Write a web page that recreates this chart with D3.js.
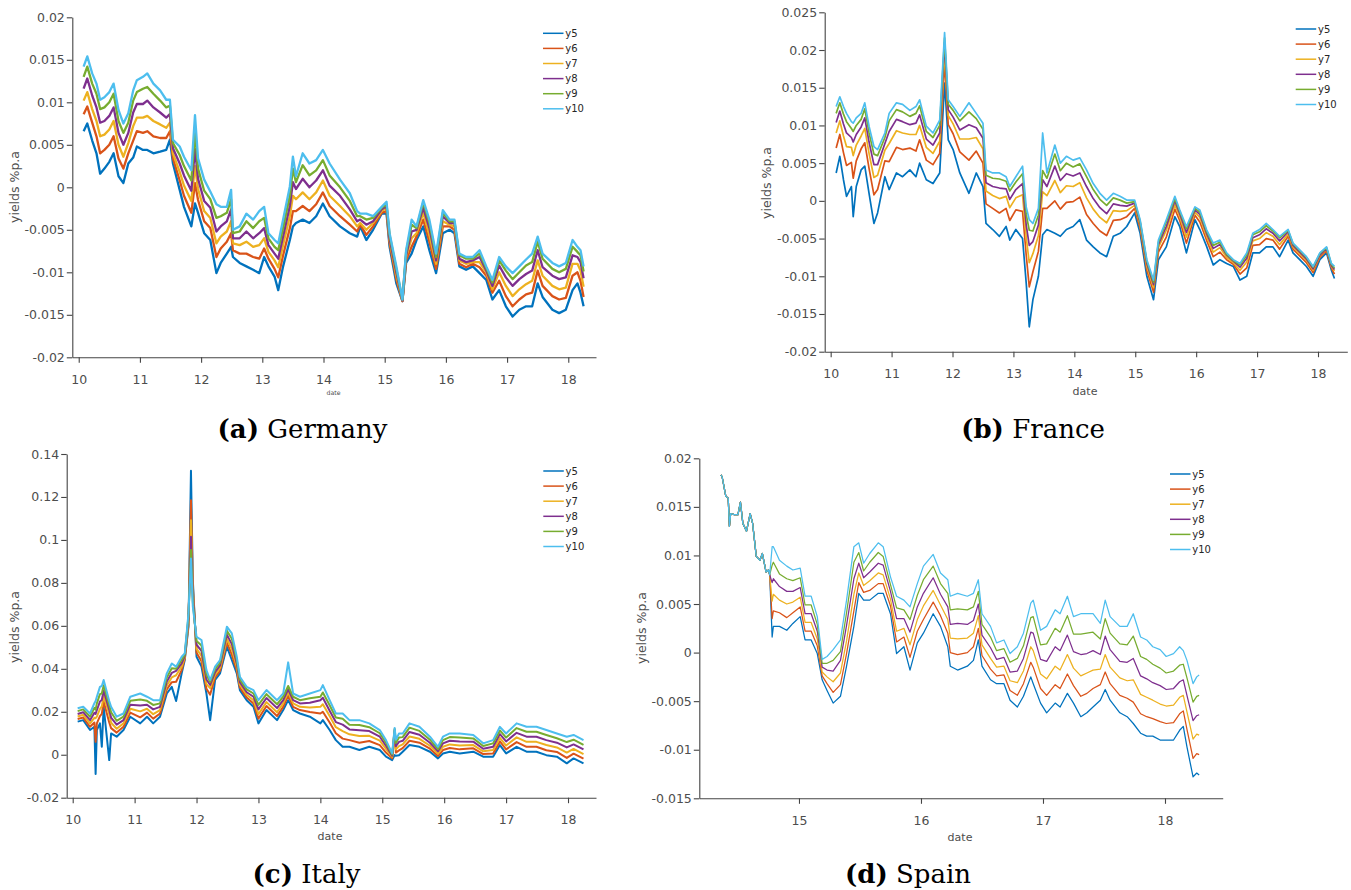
<!DOCTYPE html>
<html>
<head>
<meta charset="utf-8">
<script src="https://cdn.jsdelivr.net/npm/d3@7"></script>
<style>
  body { margin: 0; background: #fff; }
  svg { display: block; }
</style>
</head>
<body>
<svg id="fig" width="1351" height="890"></svg>
<script>
// ============= DATA (yields in basis points, 1e-4) ==================

const seriesNames = ["y5", "y6", "y7", "y8", "y9", "y10"];
const seriesColors = ["#0072BD", "#D95319", "#EDB120", "#7E2F8E", "#77AC30", "#4DBEEE"];

const xTicksLong = [10, 11, 12, 13, 14, 15, 16, 17, 18];
const xTicksSpain = [15, 16, 17, 18];
const yTicksDE = [-0.02, -0.015, -0.01, -0.005, 0, 0.005, 0.01, 0.015, 0.02];
const yTicksFR = [-0.02, -0.015, -0.01, -0.005, 0, 0.005, 0.01, 0.015, 0.02, 0.025];
const yTicksIT = [-0.02, 0, 0.02, 0.04, 0.06, 0.08, 0.1, 0.12, 0.14];
const yTicksES = [-0.015, -0.01, -0.005, 0, 0.005, 0.01, 0.015, 0.02];

// Germany
const deDates = [10.08,10.14,10.22,10.29,10.35,10.42,10.50,10.57,10.65,10.73,10.81,10.89,10.95,11.05,11.12,11.22,11.33,11.43,11.49,11.54,
  11.65,11.72,11.84,11.90,11.95,12.05,12.15,12.25,12.32,12.42,12.49,12.52,12.63,12.74,12.85,12.95,13.03,13.10,13.20,13.26,
  13.34,13.45,13.50,13.55,13.66,13.77,13.88,13.99,14.10,14.27,14.43,14.55,14.60,14.70,14.81,14.95,15.03,15.08,15.19,15.29,
  15.35,15.44,15.52,15.63,15.73,15.84,15.95,16.06,16.14,16.22,16.33,16.44,16.55,16.66,16.76,16.87,16.98,17.09,17.20,17.31,
  17.41,17.50,17.58,17.74,17.85,17.96,18.07,18.15,18.20,18.25];
const deY5 = [66,75,55,40,16,22,30,40,13,5,28,35,48,44,44,40,42,44,56,28,
  -3,-23,-46,-19,-30,-54,-62,-101,-89,-78,-70,-82,-89,-93,-97,-101,-82,-93,-105,-121,
  -93,-62,-46,-42,-38,-42,-34,-19,-34,-46,-54,-58,-46,-62,-50,-31,-31,-70,-113,-134,
  -89,-78,-62,-46,-74,-101,-54,-50,-54,-93,-97,-93,-101,-109,-132,-121,-140,-152,-144,-140,
  -140,-113,-129,-144,-148,-144,-121,-113,-124,-140];
const deY6 = [86,95,76,60,40,44,50,60,34,22,40,55,66,64,66,60,58,58,66,34,
  8,-10,-30,5,-15,-40,-48,-82,-72,-64,-54,-74,-78,-78,-82,-84,-72,-84,-96,-106,
  -80,-48,-28,-28,-22,-28,-20,-6,-22,-34,-44,-52,-44,-56,-46,-30,-28,-66,-108,-134,
  -86,-70,-58,-38,-64,-96,-46,-46,-50,-90,-94,-90,-94,-104,-124,-110,-128,-140,-132,-126,
  -124,-98,-116,-128,-132,-130,-104,-100,-110,-129];
const deY7 = [102,112,92,78,60,62,68,78,50,36,52,72,82,82,84,78,74,70,76,40,
  18,2,-16,25,-2,-28,-36,-66,-58,-52,-40,-66,-68,-64,-70,-68,-60,-76,-86,-94,
  -68,-34,-10,-14,-6,-14,-6,8,-10,-22,-34,-46,-42,-50,-42,-28,-24,-62,-104,-133,
  -82,-60,-54,-30,-56,-90,-40,-44,-46,-86,-90,-88,-88,-100,-120,-100,-116,-128,-120,-114,
  -110,-86,-104,-116,-120,-118,-90,-90,-98,-117];
const deY8 = [116,128,108,94,76,78,84,94,64,50,64,88,98,98,102,94,88,82,86,46,
  28,14,-4,45,10,-16,-24,-52,-46,-40,-26,-60,-60,-52,-60,-54,-48,-68,-78,-84,
  -58,-22,6,-2,10,0,8,20,2,-10,-26,-40,-38,-44,-40,-26,-22,-60,-100,-133,
  -80,-52,-50,-24,-48,-86,-34,-42,-42,-84,-88,-86,-82,-98,-116,-92,-106,-116,-108,-102,
  -98,-74,-94,-104,-108,-106,-80,-82,-88,-107];
const deY9 = [130,142,122,110,92,94,100,110,78,64,76,102,112,116,118,110,102,94,96,52,
  38,25,8,65,22,-4,-14,-36,-34,-30,-14,-54,-52,-40,-48,-40,-36,-60,-70,-74,
  -48,-10,22,6,26,14,20,32,14,0,-16,-34,-34,-38,-36,-24,-20,-56,-96,-132,
  -76,-44,-48,-18,-42,-82,-30,-40,-40,-80,-84,-84,-78,-95,-112,-86,-98,-108,-100,-92,
  -88,-64,-84,-96,-100,-96,-70,-76,-80,-99];
const deY10 = [142,154,134,122,103,106,112,122,91,75,87,114,126,130,134,122,114,103,103,56,
  48,36,20,85,34,9,-5,-20,-23,-23,-3,-50,-46,-31,-38,-28,-23,-54,-62,-66,
  -38,1,36,13,40,28,32,44,28,9,-7,-28,-31,-31,-34,-23,-17,-54,-93,-132,
  -74,-38,-46,-15,-38,-78,-27,-38,-38,-78,-82,-82,-74,-93,-109,-82,-93,-101,-93,-85,
  -78,-58,-78,-89,-93,-89,-62,-70,-74,-93];

// France
const frDates = [10.09,10.15,10.21,10.26,10.34,10.37,10.42,10.50,10.56,10.63,10.71,10.77,10.89,10.96,11.08,11.18,11.30,11.40,11.46,11.57,
  11.68,11.79,11.87,11.93,12.01,12.12,12.27,12.39,12.50,12.55,12.66,12.77,12.88,12.94,13.04,13.15,13.21,13.26,13.32,13.41,
  13.48,13.55,13.68,13.77,13.87,13.98,14.09,14.20,14.31,14.42,14.53,14.64,14.75,14.86,14.99,15.08,15.19,15.30,15.38,15.51,
  15.65,15.73,15.84,15.98,16.06,16.17,16.28,16.39,16.50,16.61,16.72,16.83,16.93,17.04,17.15,17.26,17.37,17.51,17.59,17.70,
  17.81,17.92,18.03,18.14,18.22,18.27];
const frY5 = [37,59,28,6,19,-21,19,41,46,10,-30,-16,32,15,37,32,41,32,50,28,
  23,37,156,81,68,37,10,37,19,-30,-38,-47,-34,-52,-38,-50,-109,-167,-131,-100,
  -45,-38,-43,-47,-38,-34,-25,-52,-61,-69,-74,-47,-43,-34,-16,-43,-100,-131,-78,-61,
  -21,-34,-69,-25,-38,-60,-85,-78,-83,-87,-105,-100,-69,-69,-61,-61,-74,-52,-69,-78,
  -87,-100,-78,-69,-92,-103];
const frY6 = [70,88,64,47,51,30,53,69,77,43,8,15,53,52,71,68,70,66,81,54,
  48,63,185,101,89,65,54,66,50,-4,-10,-16,-10,-26,-12,-14,-72,-114,-94,-67,
  -10,-10,0,-11,-2,-1,5,-18,-30,-40,-46,-26,-25,-21,-10,-36,-92,-121,-68,-48,
  -11,-26,-56,-19,-28,-52,-74,-68,-78,-84,-97,-89,-59,-58,-50,-52,-64,-47,-64,-73,
  -82,-95,-75,-66,-89,-97];
const frY7 = [90,106,86,72,71,60,74,86,96,63,31,34,67,76,93,90,88,88,100,71,
  63,79,200,113,102,82,82,84,69,13,7,3,6,-9,4,8,-48,-82,-70,-46,
  12,7,27,11,20,19,24,4,-11,-22,-29,-13,-14,-13,-6,-32,-87,-115,-62,-39,
  -5,-21,-48,-15,-22,-47,-68,-62,-75,-82,-92,-81,-53,-50,-42,-47,-58,-44,-61,-70,
  -79,-92,-73,-64,-87,-93];
const frY8 = [104,119,102,90,84,78,88,98,110,78,48,48,76,92,108,105,101,103,114,82,
  74,90,210,121,111,94,101,97,83,24,19,17,16,2,15,23,-32,-59,-54,-32,
  28,19,46,27,36,33,37,19,3,-9,-17,-4,-6,-7,-3,-29,-83,-111,-58,-34,
  0,-17,-42,-12,-18,-43,-63,-58,-72,-80,-88,-76,-49,-45,-37,-43,-53,-41,-59,-68,
  -77,-90,-72,-63,-86,-91];
const frY9 = [116,130,115,105,96,92,100,108,122,90,62,60,84,106,121,118,112,116,126,92,
  84,100,216,128,120,106,118,109,95,34,30,29,26,13,25,36,-18,-39,-40,-19,
  40,30,62,40,50,45,49,32,15,2,-6,4,1,-3,-1,-27,-80,-108,-55,-28,
  3,-14,-37,-10,-15,-40,-59,-55,-71,-79,-85,-72,-45,-41,-33,-40,-49,-39,-57,-66,
  -75,-88,-70,-62,-84,-89];
const frY10 = [125,138,125,116,105,103,110,116,130,99,72,68,90,116,130,128,120,125,134,99,
  90,107,223,134,125,112,130,116,103,41,37,37,32,19,32,46,-8,-25,-30,-10,
  90,37,74,50,59,54,57,41,23,10,1,10,6,1,1,-25,-78,-105,-52,-25,
  6,-12,-34,-8,-12,-38,-56,-52,-69,-78,-83,-69,-43,-38,-30,-38,-47,-38,-56,-65,
  -74,-87,-69,-61,-83,-87];

// Italy
const itDates = [10.08,10.17,10.28,10.35,10.37,10.39,10.44,10.47,10.50,10.59,10.62,10.71,10.82,10.93,11.09,11.20,11.30,11.41,11.52,11.60,
  11.67,11.76,11.81,11.87,11.91,11.94,12.00,12.08,12.16,12.22,12.30,12.38,12.49,12.57,12.65,12.70,12.81,12.92,13.00,13.13,
  13.30,13.40,13.48,13.56,13.67,13.83,14.00,14.04,14.15,14.25,14.36,14.47,14.63,14.79,14.96,15.06,15.16,15.20,15.22,15.27,
  15.33,15.44,15.60,15.77,15.90,15.98,16.09,16.25,16.47,16.63,16.79,16.90,17.00,17.17,17.33,17.49,17.65,17.82,17.98,18.09,
  18.25];
const itY5 = [154,161,115,130,-90,115,146,37,223,-25,99,84,115,177,146,177,146,177,285,316,
  250,379,441,596,1322,813,456,410,285,161,348,379,503,441,379,301,254,223,146,208,
  161,208,254,208,192,177,146,161,115,68,37,37,22,37,22,-9,-25,-2,-5,-2,
  14,45,37,14,-17,6,14,6,14,-9,-9,45,6,37,14,14,-2,-9,-40,-17,
  -40];
const itY6 = [166,173,130,150,60,146,180,190,248,150,124,103,130,196,174,196,168,192,304,338,
  340,394,447,608,1185,790,475,435,307,280,360,391,522,466,394,313,266,239,168,227,
  180,223,275,223,208,199,192,200,150,100,75,68,56,64,45,10,-17,100,10,20,
  31,65,56,28,-6,22,31,25,30,3,6,62,25,59,37,37,21,13,-15,5,
  -18];
const itY7 = [178,186,146,172,170,177,214,225,273,190,149,121,146,214,202,214,189,208,323,360,
  370,410,453,620,1092,760,493,460,329,310,373,404,540,491,410,326,279,254,189,245,
  198,239,290,239,223,220,223,235,180,128,110,95,87,88,66,27,-10,110,25,40,
  48,85,74,42,5,37,48,43,45,16,22,79,43,81,60,60,45,34,10,27,
  3];
const itY8 = [190,198,161,195,190,208,248,255,298,210,173,140,161,233,229,233,211,223,341,381,
  390,425,460,633,1015,740,512,484,350,325,385,416,559,515,425,338,291,270,211,264,
  217,254,305,254,239,242,254,265,205,152,140,118,114,110,84,42,-4,115,40,60,
  65,106,93,56,16,53,65,62,61,28,37,96,62,102,84,84,68,56,34,48,
  25];
const itY9 = [203,211,177,218,210,239,282,285,323,230,198,158,177,251,257,251,232,239,360,403,
  400,441,466,645,953,710,530,509,372,338,398,429,577,540,441,351,304,285,232,282,
  235,270,320,270,254,263,270,290,230,173,168,140,138,128,100,56,1,120,55,80,
  82,126,111,70,26,68,82,80,76,41,53,113,80,124,107,107,92,77,59,70,
  46];
const itY10 = [216,223,192,240,250,270,316,320,348,250,223,177,192,270,285,270,254,254,379,425,
  410,456,472,658,914,689,549,534,394,348,410,441,596,565,456,363,316,301,254,301,
  254,285,430,285,270,285,301,324,254,192,192,161,161,146,115,68,6,125,70,99,
  99,146,130,84,37,84,99,99,92,53,68,130,99,146,130,130,115,99,84,92,
  68];

// Spain: all maturities coincide until mid-2014
const esHeadDates = [14.36,14.37,14.40,14.42,14.43,14.44,14.47,14.50,14.52,14.54,14.57,14.60,14.62,14.65,14.68,14.70,14.73,14.75,14.76];
const esHead = [183,181,161,159,130,143,142,142,155,133,125,143,133,99,95,102,83,85,80];
const esDates = [14.78,14.79,14.84,14.90,14.95,15.01,15.05,15.10,15.15,15.19,15.23,15.28,15.34,15.39,15.45,15.49,15.53,15.58,15.65,15.69,
  15.75,15.80,15.86,15.91,15.97,16.02,16.10,16.16,16.22,16.24,16.30,16.38,16.43,16.47,16.50,16.57,16.62,16.68,16.73,16.79,
  16.84,16.90,16.92,16.98,17.03,17.10,17.14,17.20,17.25,17.31,17.36,17.41,17.47,17.51,17.55,17.63,17.69,17.74,17.80,17.85,
  17.90,17.96,18.01,18.07,18.12,18.15,18.18,18.23,18.26,18.28];
const esY5 = [16,27,27,23,30,37,13,13,-1,-28,-39,-52,-45,-14,27,61,54,54,61,61,
  40,-1,6,-18,10,20,40,27,6,-14,-18,-14,-8,13,-14,-28,-32,-32,-49,-56,
  -45,-25,-32,-52,-62,-52,-56,-42,-52,-66,-62,-56,-49,-38,-49,-62,-66,-73,-83,-86,
  -86,-90,-90,-90,-80,-76,-97,-128,-124,-126];
const esY6 = [35,43,41,36,41,47,22,22,7,-24,-32,-41,-33,-1,43,72,62,64,71,71,
  48,11,16,-5,22,34,52,38,20,0,-2,0,6,25,-3,-17,-24,-23,-39,-44,
  -32,-10,-15,-37,-44,-33,-37,-22,-34,-45,-42,-37,-33,-20,-32,-44,-47,-51,-63,-66,
  -68,-71,-73,-72,-63,-60,-79,-109,-104,-105];
const esY7 = [53,60,54,50,52,57,31,31,14,-20,-25,-30,-21,12,60,82,69,74,82,80,
  55,22,25,8,34,48,64,49,34,15,14,15,20,38,8,-6,-15,-14,-29,-31,
  -19,6,2,-22,-27,-14,-18,-2,-16,-24,-21,-18,-17,-2,-15,-26,-29,-28,-43,-46,
  -49,-53,-55,-54,-46,-44,-61,-89,-84,-85];
const esY8 = [72,76,68,63,63,67,40,40,22,-15,-18,-19,-8,28,76,92,77,83,92,90,
  63,35,35,21,47,61,77,60,47,29,30,29,33,50,18,5,-7,-5,-20,-19,
  -6,21,20,-7,-9,6,2,18,1,-2,-1,2,-2,17,3,-9,-10,-6,-24,-27,
  -31,-34,-38,-37,-30,-28,-44,-70,-65,-64];
const esY9 = [90,93,81,76,74,77,49,49,29,-11,-11,-8,1,41,93,103,84,93,103,99,
  70,46,44,34,59,75,89,71,61,44,45,44,47,63,29,16,2,4,-10,-6,
  7,36,37,8,9,25,21,38,19,19,20,21,14,35,20,9,8,17,-4,-7,
  -12,-16,-21,-19,-13,-12,-26,-51,-45,-44];
const esY10 = [109,109,95,89,85,87,58,58,37,-7,-4,3,13,54,109,113,92,102,113,109,
  78,58,54,47,71,89,101,82,75,58,61,58,61,75,40,27,10,13,-1,6,
  20,51,54,23,27,44,40,58,37,40,40,40,30,54,37,27,27,40,16,13,
  6,3,-4,-1,6,2,-8,-32,-25,-23];

// ============= PANELS ==================

const panels = [
  {
    letter: "a", name: "Germany",
    dates: deDates, series: [deY5, deY6, deY7, deY8, deY9, deY10],
    box: { left: 72.3, right: 596, top: 17.3, bottom: 357.3 },
    xDomain: [9.895, 18.453], yDomain: [-0.02, 0.02],
    xTicks: xTicksLong, yTicks: yTicksDE, lineW: 2.3,
    legend: { x: 543, y: 33.3 }, ylab: { x: 15, y: 187 },
    xlab: { x: 333.5, y: 394.5, size: 6.2 }, caption: { x: 302.5, y: 438 }
  },
  {
    letter: "b", name: "France",
    dates: frDates, series: [frY5, frY6, frY7, frY8, frY9, frY10],
    box: { left: 824.7, right: 1347.3, top: 12.3, bottom: 351.7 },
    xDomain: [9.902, 18.481], yDomain: [-0.02, 0.025],
    xTicks: xTicksLong, yTicks: yTicksFR, lineW: 1.7,
    legend: { x: 1295.7, y: 29 }, ylab: { x: 766.7, y: 183 },
    xlab: { x: 1085, y: 395, size: 11 }, caption: { x: 1033, y: 438 }
  },
  {
    letter: "c", name: "Italy",
    dates: itDates, series: [itY5, itY6, itY7, itY8, itY9, itY10],
    box: { left: 66.7, right: 596, top: 454, bottom: 797.7 },
    xDomain: [9.903, 18.452], yDomain: [-0.02, 0.14],
    xTicks: xTicksLong, yTicks: yTicksIT, lineW: 2.0,
    legend: { x: 543.3, y: 471 }, ylab: { x: 15, y: 627 },
    xlab: { x: 330, y: 840, size: 11 }, caption: { x: 306.5, y: 883 }
  },
  {
    letter: "d", name: "Spain",
    dates: esHeadDates.concat(esDates),
    series: [esY5, esY6, esY7, esY8, esY9, esY10].map(s => esHead.concat(s)),
    box: { left: 699.3, right: 1222.7, top: 458.3, bottom: 798.3 },
    xDomain: [14.183, 18.473], yDomain: [-0.015, 0.02],
    xTicks: xTicksSpain, yTicks: yTicksES, lineW: 1.25,
    legend: { x: 1170, y: 474 }, ylab: { x: 641.7, y: 628 },
    xlab: { x: 960, y: 841, size: 11 }, caption: { x: 908, y: 883 }
  }
];

const svg = d3.select("#fig");
const tickFmt = d => String(+d.toFixed(4));
const axisColor = "#444";
const labelColor = "#4d4d4d";

function drawPanel(p) {
  const g = svg.append("g");
  const x = d3.scaleLinear().domain(p.xDomain).range([p.box.left, p.box.right]);
  const y = d3.scaleLinear().domain(p.yDomain).range([p.box.bottom, p.box.top]);

  // data lines, y5 first so y10 sits on top
  const line = d3.line().x(d => x(d[0])).y(d => y(d[1] / 1e4));
  p.series.forEach((vals, i) => {
    g.append("path")
      .datum(p.dates.map((dt, j) => [dt, vals[j]]))
      .attr("d", line)
      .attr("fill", "none")
      .attr("stroke", seriesColors[i])
      .attr("stroke-width", p.lineW)
      .attr("stroke-linejoin", "round");
  });

  // axes (MATLAB style: left + bottom only, ticks outside)
  const xAxis = g.append("g")
    .attr("transform", `translate(0,${p.box.bottom})`)
    .call(d3.axisBottom(x).tickValues(p.xTicks).tickSize(5.5).tickSizeOuter(0)
      .tickPadding(12).tickFormat(d3.format("d")));
  const yAxis = g.append("g")
    .attr("transform", `translate(${p.box.left},0)`)
    .call(d3.axisLeft(y).tickValues(p.yTicks).tickSize(5.5).tickSizeOuter(0)
      .tickPadding(2).tickFormat(tickFmt));
  [xAxis, yAxis].forEach(ax => {
    ax.select(".domain").attr("stroke", axisColor).attr("stroke-width", 1.1);
    ax.selectAll(".tick line").attr("stroke", axisColor).attr("stroke-width", 1.1);
    ax.selectAll(".tick text")
      .attr("fill", labelColor)
      .style("font-family", "'DejaVu Sans', sans-serif")
      .style("font-size", "12.5px");
  });

  // axis titles
  g.append("text")
    .attr("transform", `translate(${p.ylab.x},${p.ylab.y}) rotate(-90)`)
    .attr("text-anchor", "middle").attr("dy", "0.35em")
    .attr("fill", labelColor)
    .style("font-family", "'DejaVu Sans', sans-serif").style("font-size", "12.5px")
    .text("yields %p.a");
  g.append("text")
    .attr("x", p.xlab.x).attr("y", p.xlab.y)
    .attr("text-anchor", "middle")
    .attr("fill", labelColor)
    .style("font-family", "'DejaVu Sans', sans-serif").style("font-size", p.xlab.size + "px")
    .text("date");

  // legend
  const leg = g.append("g").attr("transform", `translate(${p.legend.x},${p.legend.y})`);
  seriesNames.forEach((name, i) => {
    const row = leg.append("g").attr("transform", `translate(0,${i * 15.1})`);
    row.append("line")
      .attr("x1", 0).attr("x2", 20.5).attr("y1", 0).attr("y2", 0)
      .attr("stroke", seriesColors[i]).attr("stroke-width", 1.5);
    row.append("text")
      .attr("x", 22.3).attr("dy", "0.36em")
      .attr("fill", "#262626")
      .style("font-family", "'DejaVu Sans', sans-serif").style("font-size", "10px")
      .text(name);
  });

  // sub-caption
  const cap = svg.append("text")
    .attr("x", p.caption.x).attr("y", p.caption.y)
    .attr("text-anchor", "middle")
    .attr("fill", "#000")
    .style("font-family", "'DejaVu Serif', serif").style("font-size", "26px");
  cap.append("tspan").style("font-weight", "bold").text(`(${p.letter})`);
  cap.append("tspan").text(` ${p.name}`);
}

panels.forEach(drawPanel);
</script>
</body>
</html>
